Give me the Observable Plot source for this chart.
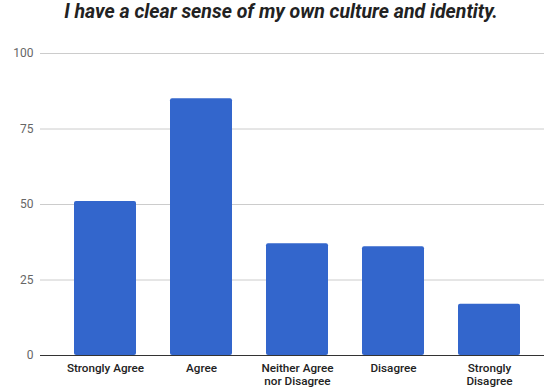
<!DOCTYPE html>
<html><head><meta charset="utf-8">
<script src="https://cdn.jsdelivr.net/npm/d3@7"></script>
<script src="https://cdn.jsdelivr.net/npm/@observablehq/plot@0.6"></script>
<style>
body{margin:0;background:#fff;font-family:Roboto,sans-serif;}
#title{height:40px;line-height:44px;text-align:center;font:italic 700 19.5px Roboto,sans-serif;color:#222;padding-left:18px;}
</style></head><body>
<div id="title">I have a clear sense of my own culture and identity.</div>
<div id="chart"></div>
<script>
const categories = ["Strongly Agree","Agree","Neither Agree\nnor Disagree","Disagree","Strongly\nDisagree"];
const values = [51, 85, 37, 36, 17];
const yTicks = [0, 25, 50, 75, 100];
const data = categories.map((c,i)=>({category:c, value:values[i]}));
const chart = Plot.plot({
  width:544, height:349,
  marginTop:13, marginBottom:34, marginLeft:40, marginRight:0,
  insetLeft:17, insetRight:7,
  style:{fontFamily:"Roboto, sans-serif", background:"#fff"},
  x:{domain:categories, paddingInner:0.354, paddingOuter:0.177, label:null},
  y:{domain:[0,100], ticks:yTicks, label:null},
  marks:[
    Plot.ruleY(yTicks.filter(d=>d>0), {stroke:"#cccccc", strokeWidth:1}),
    Plot.barY(data, {x:"category", y:"value", fill:"#3366cc", rx:2}),
    Plot.ruleY([0], {stroke:"#333", strokeWidth:1}),
    Plot.axisY({ticks:yTicks, tickSize:0, tickPadding:7, fontSize:12, fill:"#666", label:null}),
    Plot.axisX({tickSize:0, tickPadding:7, fontSize:11.7, fontWeight:500, fill:"#222", label:null, lineHeight:1.1})
  ]
});
document.getElementById("chart").appendChild(chart);
</script></body></html>
